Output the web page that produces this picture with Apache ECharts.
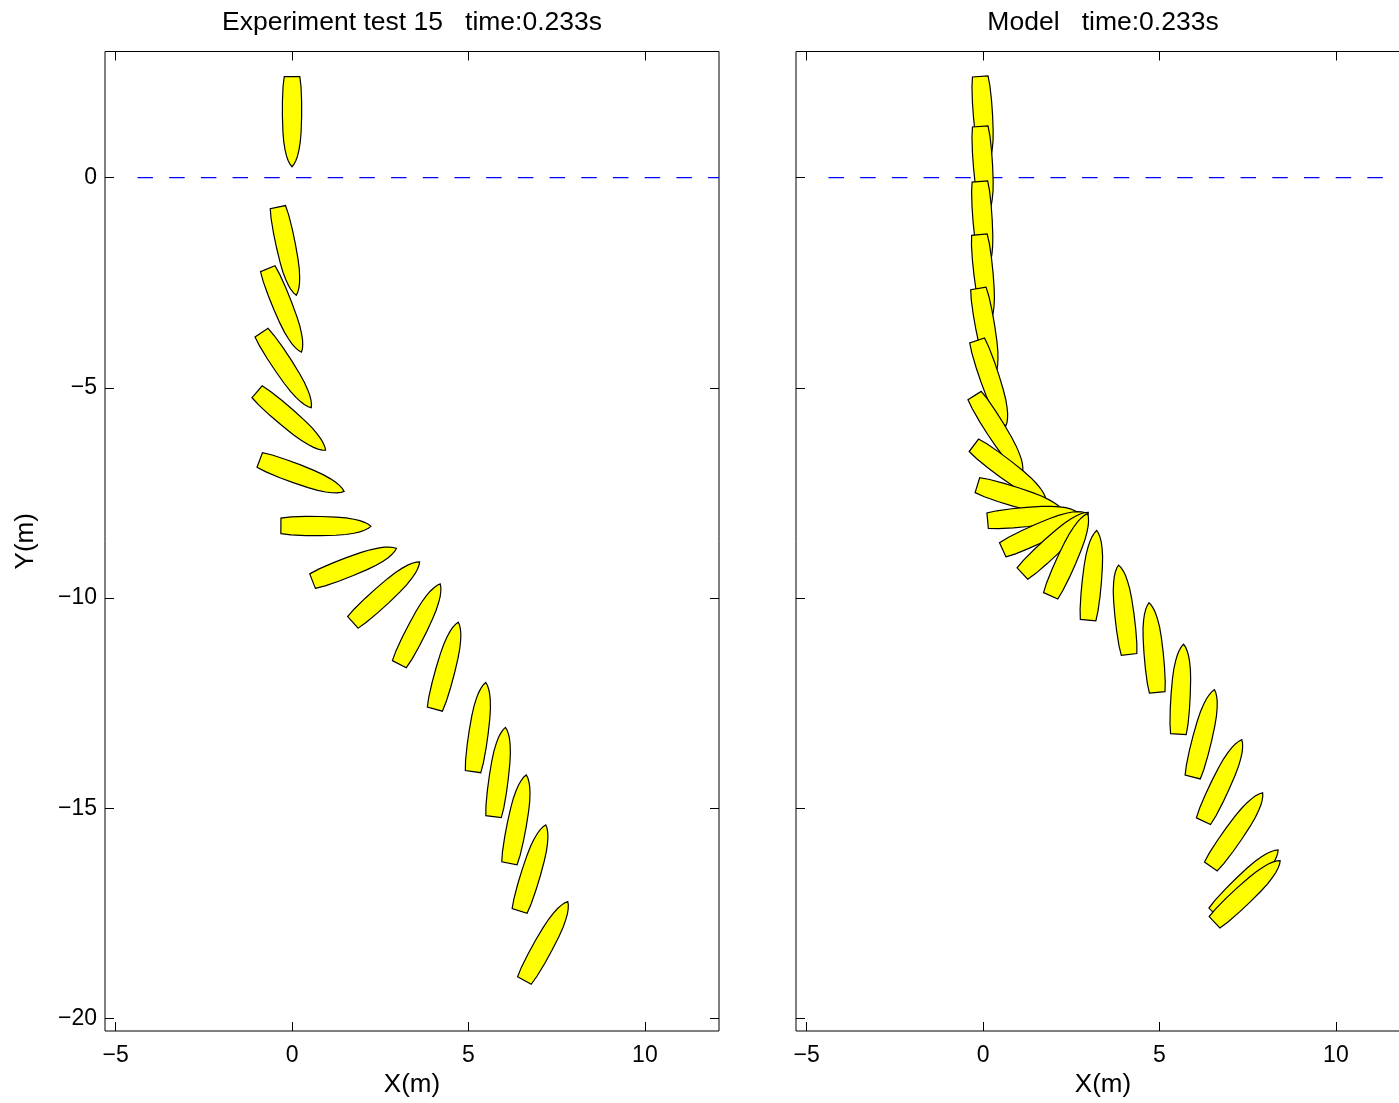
<!DOCTYPE html>
<html>
<head>
<meta charset="utf-8">
<script src="https://cdn.jsdelivr.net/npm/echarts@6/dist/echarts.min.js"></script>
<style>
html,body{margin:0;padding:0;background:#fff;}
#chart{width:1399px;height:1103px;}
</style>
</head>
<body>
<div id="chart"></div>
<script>
// ---- data ----
const xLimits = [-5.3, 12.1];
const yLimits = [-20.3, 3];
const xTicks = [-5, 0, 5, 10];
const yTicks = [-20, -15, -10, -5, 0];

const titleExp = 'Experiment test 15   time:0.233s';
const titleModel = 'Model   time:0.233s';
const xName = 'X(m)';
const yName = 'Y(m)';

// reference (dashed) line y = 0
const refLineX = [-4.38, 12.1];
const refLineY = 0;

// experiment: ship centre positions (m) and heading (deg, bow direction, CCW from +X)
const expX = [0.00, -0.14, -0.21, -0.16, -0.02, 0.28, 0.96, 1.77, 2.67, 3.62, 4.38, 5.31, 5.88, 6.40, 6.82, 7.20];
const expY = [1.33, -1.75, -3.16, -4.58, -5.79, -7.09, -8.29, -9.21, -9.86, -10.62, -11.61, -13.07, -14.14, -15.26, -16.42, -18.16];
const expHeading = [-90, -78.2, -68.0, -56.5, -40.5, -20.4, -0.3, 21.3, 42.2, 63.0, 74.9, 81.9, 82.4, 79.2, 73.1, 61.2];

// model
const modelX = [0.01, 0.01, 0.00, 0.03, 0.09, 0.24, 0.44, 0.76, 1.06, 1.40, 1.72, 2.05, 2.44, 3.10, 3.99, 4.82, 5.61, 6.25, 6.79, 7.19, 7.46, 7.49];
const modelY = [1.34, 0.15, -1.16, -2.42, -3.69, -4.89, -6.09, -7.01, -7.63, -8.06, -8.41, -8.69, -8.97, -9.46, -10.28, -11.18, -12.17, -13.22, -14.34, -15.51, -16.75, -16.98];
const modelHeading = [-86, -86, -86, -84, -80, -71.4, -57.8, -36.9, -17.0, 5.4, 24.4, 42.9, 65.8, 84.5, 96.7, 95.2, 86.7, 76.0, 64.8, 54.9, 45.0, 43.2];

// ---- styling ----
const FONT = '"Liberation Sans", Arial, Helvetica, sans-serif';
const TICK_FS = 23;
const TITLE_FS = 26.5;
const NAME_FS = 26;
const TICK_LEN = 9;

// hull outline in pixels (along, lateral), stern at -45, bow at +45
const HALF = [[-45, 7.8], [-35, 9], [-20, 9.6], [-5, 9.6], [10, 9.1], [20, 8.3], [28, 7.0], [34, 5.6], [38.5, 4.0], [42.5, 2.0], [45, 0]];
const HULL = HALF.concat(HALF.slice(0, -1).reverse().map(p => [p[0], -p[1]]));

const fmt = v => (v < 0 ? '\u2212' + Math.abs(v) : String(v));

const GRID_TOP = 51.5, GRID_H = 979.5, GRID_W = 614;
const grids = [
  {left: 105, top: GRID_TOP, width: GRID_W, height: GRID_H, show: true, borderColor: '#000', borderWidth: 1,
   backgroundColor: 'transparent', containLabel: false, outerBoundsMode: 'none'},
  {left: 796, top: GRID_TOP, width: GRID_W, height: GRID_H, show: true, borderColor: '#000', borderWidth: 1,
   backgroundColor: 'transparent', containLabel: false, outerBoundsMode: 'none'}
];

function makeX(gi) {
  return [
    {type: 'value', gridIndex: gi, position: 'bottom', min: xLimits[0], max: xLimits[1],
     axisLine: {show: false, onZero: false}, splitLine: {show: false},
     axisTick: {show: true, inside: true, length: TICK_LEN, customValues: xTicks, lineStyle: {color: '#000', width: 1}},
     axisLabel: {show: true, customValues: xTicks, formatter: fmt, margin: 13, color: '#000', fontSize: TICK_FS, fontFamily: FONT},
     name: xName, nameLocation: 'middle', nameGap: 41,
     nameTextStyle: {color: '#000', fontSize: NAME_FS, fontFamily: FONT}},
    {type: 'value', gridIndex: gi, position: 'top', min: xLimits[0], max: xLimits[1],
     axisLine: {show: false, onZero: false}, splitLine: {show: false},
     axisTick: {show: true, inside: true, length: TICK_LEN, customValues: xTicks, lineStyle: {color: '#000', width: 1}},
     axisLabel: {show: false}}
  ];
}
function makeY(gi, labels) {
  const left = {type: 'value', gridIndex: gi, position: 'left', min: yLimits[0], max: yLimits[1],
     axisLine: {show: false, onZero: false}, splitLine: {show: false},
     axisTick: {show: true, inside: true, length: TICK_LEN, customValues: yTicks, lineStyle: {color: '#000', width: 1}},
     axisLabel: {show: labels, customValues: yTicks, formatter: fmt, margin: 8, color: '#000', fontSize: TICK_FS, fontFamily: FONT}};
  if (labels) {
    left.name = yName; left.nameLocation = 'middle'; left.nameGap = 66; left.nameRotate = 90;
    left.nameTextStyle = {color: '#000', fontSize: NAME_FS, fontFamily: FONT};
  }
  const right = {type: 'value', gridIndex: gi, position: 'right', min: yLimits[0], max: yLimits[1],
     axisLine: {show: false, onZero: false}, splitLine: {show: false},
     axisTick: {show: true, inside: true, length: TICK_LEN, customValues: yTicks, lineStyle: {color: '#000', width: 1}},
     axisLabel: {show: false}};
  return [left, right];
}

function shipRender(params, api) {
  const c = api.coord([api.value(0), api.value(1)]);
  const a = api.value(2) * Math.PI / 180;
  const ux = Math.cos(a), uy = -Math.sin(a);
  const vx = Math.sin(a), vy = Math.cos(a);
  const pts = HULL.map(p => [c[0] + p[0] * ux + p[1] * vx, c[1] + p[0] * uy + p[1] * vy]);
  return {type: 'polygon', shape: {points: pts}, style: {fill: '#ffff00', stroke: '#000', lineWidth: 1.2}};
}

function refSeries(xi, yi) {
  return {type: 'line', xAxisIndex: xi, yAxisIndex: yi, data: refLineX.map(x => [x, refLineY]),
    symbol: 'none', silent: true, z: 1, animation: false,
    lineStyle: {color: '#0000ff', width: 1.2, type: [15.5, 16.2]}};
}
function shipSeries(xi, yi, xs, ys, hs) {
  return {type: 'custom', xAxisIndex: xi, yAxisIndex: yi, z: 2, clip: true, animation: false, silent: true,
    data: xs.map((x, i) => [x, ys[i], hs[i]]), renderItem: shipRender};
}

const chart = echarts.init(document.getElementById('chart'), null, {renderer: 'canvas'});
chart.setOption({
  backgroundColor: '#fff',
  animation: false,
  title: [
    {text: titleExp, left: 105 + GRID_W / 2, top: 9, textAlign: 'center', padding: 0,
     textStyle: {color: '#000', fontSize: TITLE_FS, fontWeight: 'normal', fontFamily: FONT}},
    {text: titleModel, left: 796 + GRID_W / 2, top: 9, textAlign: 'center', padding: 0,
     textStyle: {color: '#000', fontSize: TITLE_FS, fontWeight: 'normal', fontFamily: FONT}}
  ],
  grid: grids,
  xAxis: makeX(0).concat(makeX(1)),
  yAxis: makeY(0, true).concat(makeY(1, false)),
  series: [
    refSeries(0, 0),
    shipSeries(0, 0, expX, expY, expHeading),
    refSeries(2, 2),
    shipSeries(2, 2, modelX, modelY, modelHeading)
  ]
});
</script>
</body>
</html>
